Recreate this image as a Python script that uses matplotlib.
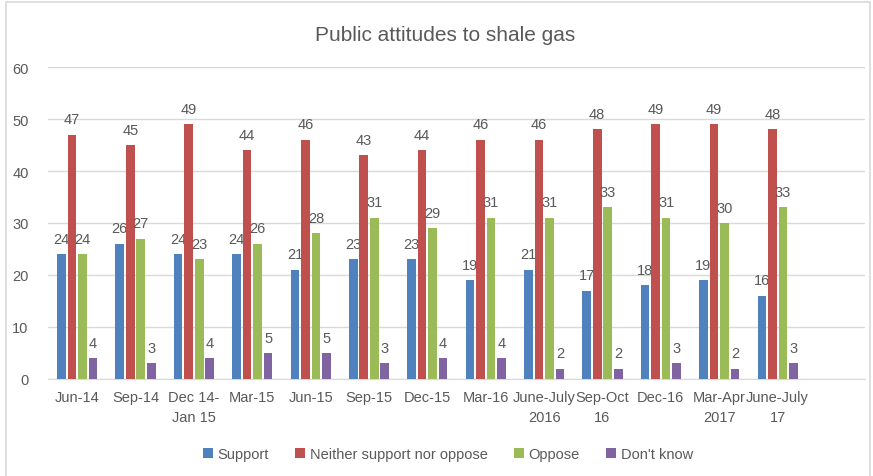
import numpy as np
import matplotlib.pyplot as plt
from matplotlib.patches import Rectangle

plt.rcParams['font.family'] = ['Liberation Sans', 'DejaVu Sans']

# 14th slot is left empty on the axis, as in the original chart
periods = ['Jun-14', 'Sep-14', 'Dec 14-\nJan 15', 'Mar-15', 'Jun-15', 'Sep-15', 'Dec-15',
           'Mar-16', 'June-July\n2016', 'Sep-Oct\n16', 'Dec-16', 'Mar-Apr\n2017',
           'June-July\n17', '']

support = [24, 26, 24, 24, 21, 23, 23, 19, 21, 17, 18, 19, 16]
neither = [47, 45, 49, 44, 46, 43, 44, 46, 46, 48, 49, 49, 48]
oppose = [24, 27, 23, 26, 28, 31, 29, 31, 31, 33, 31, 30, 33]
dont_know = [4, 3, 4, 5, 5, 3, 4, 4, 2, 2, 3, 2, 3]

series = [('Support', support, '#4F81BD'),
          ('Neither support nor oppose', neither, '#C0504D'),
          ('Oppose', oppose, '#9BBB59'),
          ("Don't know", dont_know, '#8064A2')]

txt = '#595959'
grid = '#D9D9D9'

fig = plt.figure(figsize=(8.73, 4.77), dpi=100)
ax = fig.add_axes([0.055, 0.2034, 0.936, 0.654])

x = np.arange(len(support))
pitch = 0.18
width = 0.148
for i, (name, vals, col) in enumerate(series):
    pos = x + (i - 1.5) * pitch
    ax.bar(pos, vals, width, color=col, label=name, zorder=3)
    for p, v in zip(pos, vals):
        ax.annotate(str(v), (p, v), xytext=(0, 6), textcoords='offset points',
                    ha='center', va='bottom', fontsize=10.5, color=txt)

ax.set_xlim(-0.5, len(periods) - 0.5)
ax.set_ylim(0, 60)
ax.set_yticks(range(0, 61, 10))
ax.set_xticks(range(len(periods)))
ax.set_xticklabels(periods, linespacing=1.55)
ax.tick_params(axis='both', length=0, colors=txt, labelsize=10.5)
ax.tick_params(axis='y', pad=14)
ax.tick_params(axis='x', pad=8)
ax.yaxis.grid(True, color=grid, linewidth=1, zorder=0)
for s in ['top', 'right', 'left']:
    ax.spines[s].set_visible(False)
ax.spines['bottom'].set_color(grid)

fig.text(0.51, 0.925, 'Public attitudes to shale gas', ha='center', va='center',
         fontsize=15, color=txt)

fig.legend(loc='center', bbox_to_anchor=(0.513, 0.046), ncol=4, frameon=False,
           fontsize=10.5, handlelength=0.7, handleheight=0.7, handletextpad=0.3,
           columnspacing=1.8, labelcolor=txt)

fig.patches.append(Rectangle((0.007, -0.01), 0.989, 1.003, transform=fig.transFigure,
                             fill=False, edgecolor=grid, linewidth=1.2))

fig.savefig('out.png', dpi=100)
